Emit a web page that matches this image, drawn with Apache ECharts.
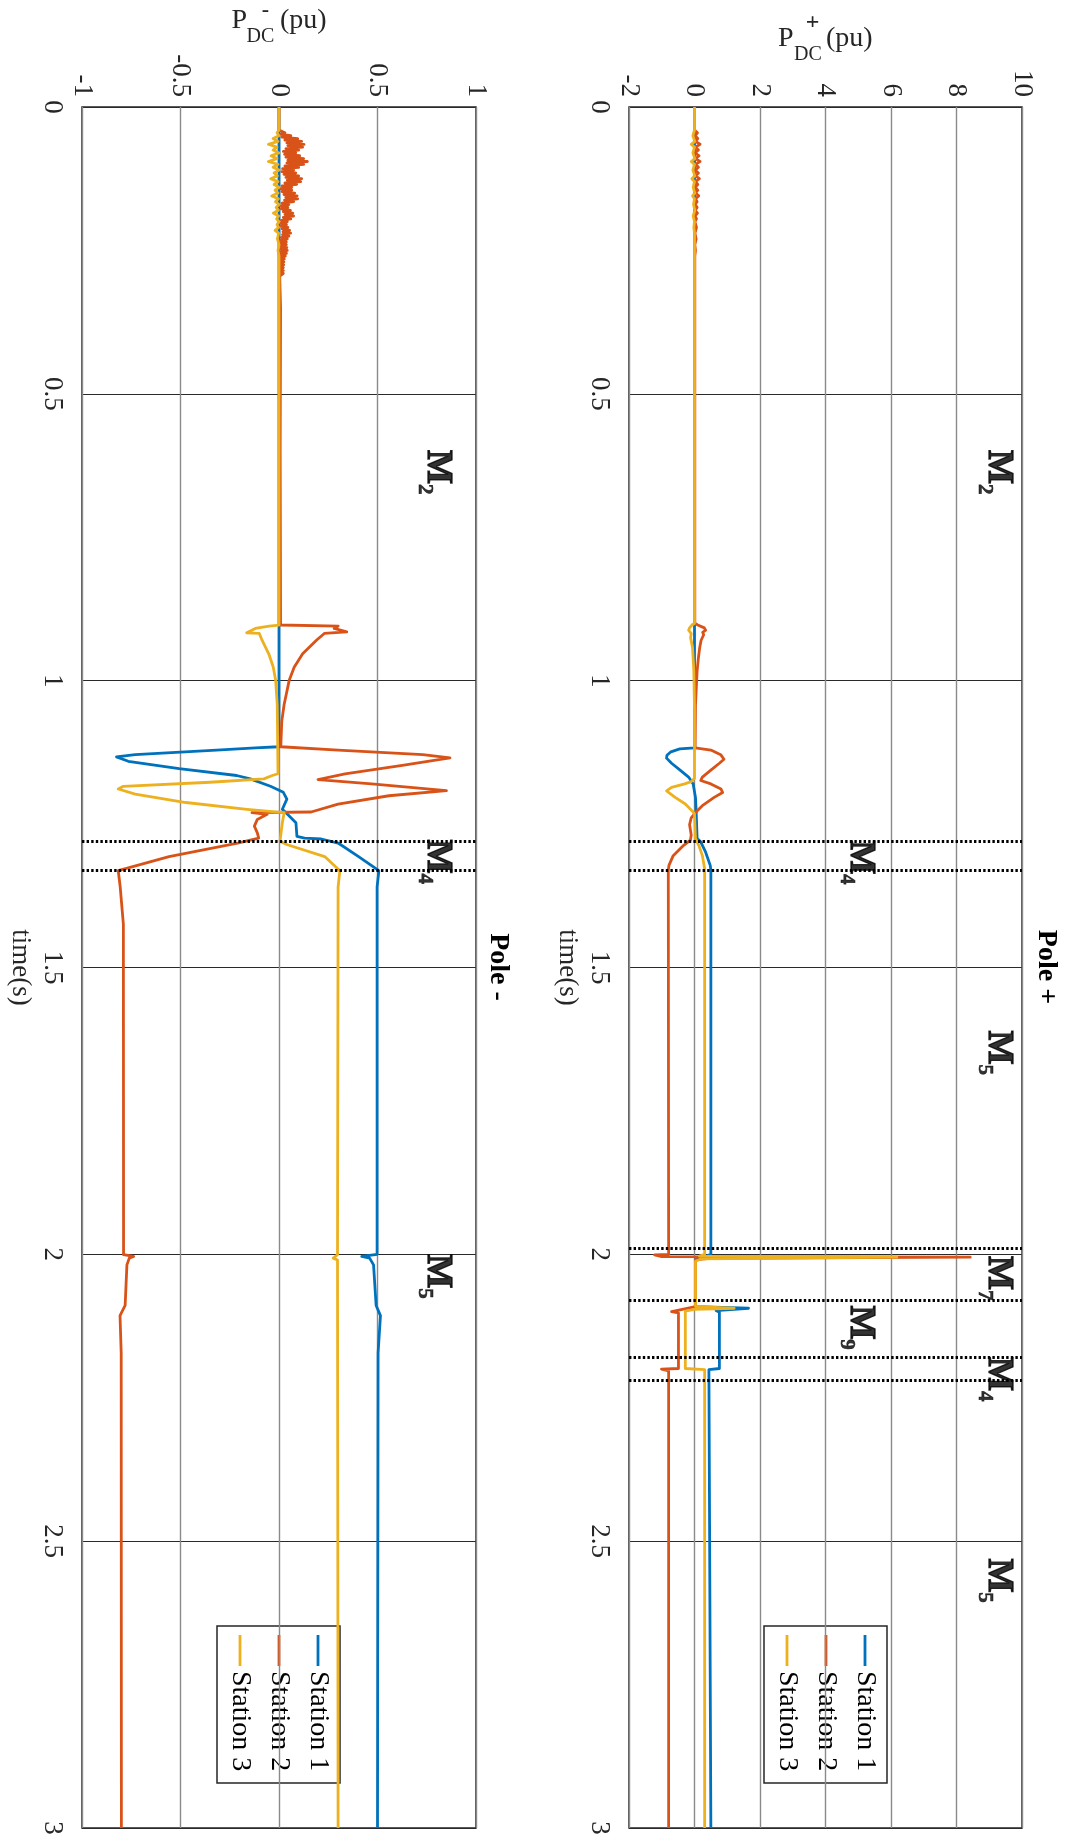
<!DOCTYPE html>
<html>
<head>
<meta charset="utf-8">
<title>P_DC per pole</title>
<script src="https://cdn.jsdelivr.net/npm/echarts@6.0.0/dist/echarts.min.js"></script>
<style>
html,body{margin:0;padding:0;background:#ffffff;}
#chart{width:1065px;height:1834px;}
</style>
</head>
<body>
<div id="chart"></div>
<script>
// ---------------- axis ticks ----------------
const timeTicks = [0, 0.5, 1, 1.5, 2, 2.5, 3];
const minusValueTicks = [-1, -0.5, 0, 0.5, 1];
const plusValueTicks = [-2, 0, 2, 4, 6, 8, 10];
const stationNames = ['Station 1', 'Station 2', 'Station 3'];

// ---------------- Pole + : [time (s), P_DC+ (pu)] ----------------
const plusStation1 = [[0,0],[1.117,0],[1.119,-0.45],[1.124,-0.72],[1.13,-0.84],[1.135,-0.854],[1.144,-0.7],[1.156,-0.44],[1.168,-0.18],[1.18,-0.04],[1.2035,0.03],[1.227,0.05],[1.275,0.08],[1.281,0.19],[1.299,0.34],[1.322,0.48],[1.33,0.5],[2.0,0.5],[2.002,0.4],[2.005,0.55],[2.009,0.03],[2.091,0.03],[2.094,1.65],[2.098,0.66],[2.101,0.76],[2.199,0.76],[2.201,0.44],[2.204,0.5],[3,0.5]];
const plusStation2 = [[0,0],[0.04,0],[0.045,0.09],[0.05,0.02],[0.055,0.1],[0.06,0.03],[0.065,0.17],[0.07,0.03],[0.075,0.12],[0.08,0.02],[0.085,0.14],[0.09,0.03],[0.095,0.17],[0.1,0.03],[0.105,0.12],[0.11,0.02],[0.115,0.12],[0.12,0.03],[0.125,0.15],[0.13,0.03],[0.135,0.1],[0.14,0.02],[0.145,0.1],[0.15,0.03],[0.155,0.13],[0.16,0.03],[0.165,0.08],[0.17,0.02],[0.175,0.08],[0.18,0.02],[0.185,0.09],[0.19,0.02],[0.195,0.06],[0.2,0.015],[0.21,0.06],[0.22,0.015],[0.23,0.05],[0.24,0.01],[0.25,0.03],[0.26,0.01],[0.3,0.01],[0.9,0.01],[0.903,0.1],[0.908,0.3],[0.912,0.34],[0.916,0.25],[0.92,0.28],[0.93,0.2],[0.942,0.16],[0.96,0.12],[0.983,0.08],[1.042,0.03],[1.117,0.02],[1.121,0.5],[1.129,0.8],[1.137,0.9],[1.144,0.76],[1.156,0.5],[1.168,0.24],[1.174,0.19],[1.18,0.5],[1.189,0.81],[1.195,0.86],[1.2035,0.6],[1.218,0.24],[1.23,0.03],[1.239,-0.1],[1.251,-0.15],[1.269,-0.1],[1.278,-0.125],[1.287,-0.33],[1.305,-0.65],[1.322,-0.78],[1.33,-0.8],[2.0,-0.79],[2.001,-1.22],[2.004,-1.0],[2.005,8.42],[2.007,0.5],[2.009,0.03],[2.091,0.03],[2.1,-0.7],[2.102,-0.49],[2.199,-0.49],[2.2,-1.01],[2.203,-0.79],[3,-0.79]];
const plusStation3 = [[0,0],[0.04,0],[0.05,-0.05],[0.06,0.01],[0.065,-0.1],[0.07,0],[0.08,-0.05],[0.09,0.01],[0.095,-0.1],[0.1,0],[0.11,-0.05],[0.12,0.01],[0.125,-0.08],[0.13,0],[0.14,-0.04],[0.15,0.01],[0.155,-0.06],[0.16,0],[0.17,-0.03],[0.18,0.01],[0.19,-0.04],[0.2,0],[0.21,-0.02],[0.22,0],[0.9,0],[0.903,-0.08],[0.908,-0.15],[0.912,-0.18],[0.918,-0.1],[0.925,-0.12],[0.942,-0.06],[0.983,-0.02],[1.05,0],[1.17,0],[1.176,-0.1],[1.18,-0.3],[1.186,-0.7],[1.192,-0.854],[1.2035,-0.59],[1.215,-0.28],[1.227,-0.07],[1.232,0],[1.275,0.03],[1.287,0.13],[1.305,0.24],[1.328,0.31],[2.0,0.31],[2.003,0.15],[2.005,6.18],[2.008,0.2],[2.012,0.03],[2.091,0.03],[2.094,1.21],[2.096,0.0],[2.099,-0.28],[2.199,-0.28],[2.201,0.31],[3,0.31]];

// ---------------- Pole - : [time (s), P_DC- (pu)] ----------------
const minusStation1 = [[0,0],[1.1152,0],[1.117,-0.12],[1.1211,-0.317],[1.1288,-0.73],[1.1329,-0.825],[1.1405,-0.765],[1.1535,-0.507],[1.1653,-0.215],[1.1712,-0.146],[1.1841,-0.043],[1.1947,0.022],[1.2065,0.04],[1.2242,0.017],[1.233,0.043],[1.2477,0.086],[1.2713,0.091],[1.2743,0.13],[1.276,0.215],[1.283,0.30],[1.3066,0.404],[1.3313,0.507],[1.3597,0.498],[2.0,0.498],[2.0037,0.42],[2.0066,0.46],[2.0184,0.48],[2.0891,0.493],[2.1068,0.515],[2.1717,0.503],[3,0.5]];
const minusStation2 = [[0,0],[0.04,0],[0.0425,0.005],[0.045,0.03],[0.0475,0.008],[0.05,0.06],[0.0525,0.014],[0.055,0.095],[0.0575,0.03],[0.06,0.115],[0.0625,0.04],[0.065,0.127],[0.0675,0.045],[0.07,0.12],[0.0725,0.035],[0.075,0.1],[0.0775,0.022],[0.08,0.085],[0.0825,0.028],[0.085,0.105],[0.0875,0.035],[0.09,0.125],[0.0925,0.045],[0.095,0.144],[0.0975,0.04],[0.1,0.125],[0.1025,0.03],[0.105,0.1],[0.1075,0.018],[0.11,0.075],[0.1125,0.014],[0.115,0.085],[0.1175,0.025],[0.12,0.1],[0.1225,0.035],[0.125,0.115],[0.1275,0.042],[0.13,0.11],[0.1325,0.03],[0.135,0.09],[0.1375,0.015],[0.14,0.065],[0.1425,0.008],[0.145,0.065],[0.1475,0.015],[0.15,0.08],[0.1525,0.025],[0.155,0.092],[0.1575,0.034],[0.16,0.095],[0.1625,0.028],[0.165,0.075],[0.1675,0.015],[0.17,0.05],[0.1725,0.008],[0.175,0.045],[0.1775,0.012],[0.18,0.058],[0.1825,0.022],[0.185,0.07],[0.1875,0.03],[0.19,0.074],[0.1925,0.022],[0.195,0.06],[0.1975,0.012],[0.2,0.042],[0.2025,0.008],[0.205,0.038],[0.2075,0.01],[0.21,0.045],[0.2125,0.016],[0.215,0.054],[0.2175,0.02],[0.22,0.059],[0.2225,0.018],[0.225,0.05],[0.2275,0.01],[0.23,0.042],[0.2325,0.006],[0.235,0.037],[0.2375,0.005],[0.24,0.037],[0.2425,0.006],[0.245,0.04],[0.2475,0.008],[0.25,0.042],[0.2525,0.008],[0.255,0.038],[0.2575,0.005],[0.26,0.032],[0.2625,0.003],[0.265,0.027],[0.2675,0.002],[0.27,0.025],[0.2725,0.002],[0.275,0.024],[0.2775,0.002],[0.28,0.022],[0.2825,0.002],[0.285,0.022],[0.2875,0.002],[0.29,0.022],[0.295,0.004],[0.3,0.004],[0.35,0.008],[0.6,0.006],[0.903,0.008],[0.9048,0.3],[0.909,0.28],[0.9148,0.344],[0.9177,0.23],[0.9295,0.19],[0.9531,0.12],[0.9767,0.077],[0.9991,0.052],[1.0415,0.026],[1.0709,0.014],[1.1152,0.009],[1.1211,0.30],[1.1288,0.73],[1.1346,0.868],[1.1476,0.626],[1.1623,0.335],[1.1724,0.198],[1.18,0.47],[1.1917,0.85],[1.2006,0.558],[1.2153,0.30],[1.2289,0.163],[1.2301,-0.137],[1.233,-0.06],[1.2419,-0.11],[1.2536,-0.125],[1.2654,-0.11],[1.2743,-0.103],[1.283,-0.21],[1.3066,-0.558],[1.3313,-0.816],[1.3597,-0.806],[1.4245,-0.79],[2.0007,-0.789],[2.0037,-0.738],[2.0066,-0.76],[2.0184,-0.772],[2.0891,-0.781],[2.1068,-0.807],[2.1717,-0.801],[3,-0.8]];
const minusStation3 = [[0,0],[0.04,0],[0.045,-0.01],[0.05,0],[0.055,-0.03],[0.06,-0.005],[0.065,-0.054],[0.07,-0.01],[0.075,-0.03],[0.08,0],[0.085,-0.04],[0.09,-0.01],[0.095,-0.054],[0.1,-0.005],[0.105,-0.03],[0.11,0],[0.115,-0.025],[0.12,-0.008],[0.125,-0.042],[0.13,-0.005],[0.135,-0.025],[0.14,0],[0.145,-0.02],[0.15,-0.005],[0.155,-0.037],[0.16,-0.003],[0.165,-0.018],[0.17,0],[0.175,-0.015],[0.18,-0.003],[0.185,-0.029],[0.19,-0.002],[0.195,-0.012],[0.2,0],[0.205,-0.01],[0.21,-0.002],[0.215,-0.02],[0.22,-0.002],[0.23,-0.008],[0.24,0],[0.25,-0.005],[0.26,0],[0.903,0],[0.9048,-0.05],[0.909,-0.12],[0.9166,-0.164],[0.9177,-0.1],[0.9295,-0.086],[0.9531,-0.052],[0.9767,-0.029],[0.9991,-0.017],[1.0415,-0.009],[1.1623,-0.005],[1.1653,-0.034],[1.1712,-0.077],[1.1771,-0.35],[1.1841,-0.79],[1.1888,-0.816],[1.1977,-0.73],[1.2124,-0.4725],[1.2242,-0.163],[1.2301,0.026],[1.2477,0.017],[1.2801,0.005],[1.286,0.043],[1.3066,0.232],[1.3313,0.309],[1.3597,0.30],[2.0007,0.297],[2.0066,0.275],[2.01,0.297],[3,0.3]];

// ---------------- mode-change markers and mode labels ----------------
const plusMarkerTimes = [1.28, 1.33, 1.987, 2.079, 2.182, 2.222];
const minusMarkerTimes = [1.28, 1.33];
// [start time, value, mode number]
const plusModeLabels = [[0.598, 9.28, '2'], [1.278, 5.05, '4'], [1.61, 9.28, '5'], [2.003, 9.28, '7'], [2.089, 5.05, '9'], [2.179, 9.28, '4'], [2.53, 9.28, '5']];
const minusModeLabels = [[0.598, 0.805, '2'], [1.277, 0.805, '4'], [2.0, 0.805, '5']];

// ---------------- styling ----------------
const COLORS = ['#0072BD', '#D95319', '#EDB120'];
const FONT = '"Liberation Serif", "Times New Roman", Times, serif';
const TXT = '#262626';

const chart = echarts.init(document.getElementById('chart'), null, {renderer: 'canvas'});

const gridDefs = [
  {left: 82, top: 107, width: 394, height: 1721},   // Pole -
  {left: 629, top: 107, width: 393, height: 1721}   // Pole +
];
const valueRange = [
  {min: minusValueTicks[0], max: minusValueTicks[minusValueTicks.length - 1], interval: minusValueTicks[1] - minusValueTicks[0]},
  {min: plusValueTicks[0], max: plusValueTicks[plusValueTicks.length - 1], interval: plusValueTicks[1] - plusValueTicks[0]}
];

function lineSeries(name, pts, color, idx) {
  return {
    name: name, type: 'line', xAxisIndex: idx, yAxisIndex: idx,
    data: pts.map(p => [p[1], p[0]]),
    showSymbol: false, symbol: 'none', animation: false, silent: true,
    lineStyle: {color: color, width: 2.8, join: 'round'},
    itemStyle: {color: color},
    z: 3
  };
}

function markerSeries(times, idx) {
  return {
    type: 'line', xAxisIndex: idx, yAxisIndex: idx, data: [], silent: true, z: 5,
    markLine: {
      symbol: ['none', 'none'], silent: true, animation: false,
      label: {show: false},
      lineStyle: {color: '#000', width: 3, type: [2.4, 2.2], opacity: 1},
      emphasis: {disabled: true},
      data: times.map(t => ({yAxis: t}))
    }
  };
}

function modeLabelSeries(labels, idx) {
  return {
    type: 'scatter', xAxisIndex: idx, yAxisIndex: idx, silent: true, z: 6,
    symbolSize: 1, itemStyle: {color: 'rgba(0,0,0,0)'},
    data: labels.map(l => ({value: [l[1], l[0]], name: l[2]})),
    label: {
      show: true, position: 'inside', rotate: -90, align: 'left', verticalAlign: 'middle',
      color: '#000', fontWeight: 'bold', fontFamily: FONT, fontSize: 35,
      formatter: p => '{m|M}{s|' + p.name + '}',
      rich: {
        m: {fontFamily: FONT, fontWeight: 'bold', fontSize: 36, color: '#000', lineHeight: 36, verticalAlign: 'top', textBorderColor: '#000', textBorderWidth: 1.4},
        s: {fontFamily: FONT, fontWeight: 'bold', fontSize: 21, color: '#000', lineHeight: 21, verticalAlign: 'top', padding: [21, 0, 0, 0], textBorderColor: '#000', textBorderWidth: 0.6}
      }
    }
  };
}

const xAxes = gridDefs.map((g, i) => ({
  type: 'value', gridIndex: i, position: 'top',
  min: valueRange[i].min, max: valueRange[i].max, interval: valueRange[i].interval,
  axisLine: {show: false}, axisTick: {show: false},
  axisLabel: {rotate: -90, margin: 10, fontFamily: FONT, fontSize: 27, color: TXT, hideOverlap: false},
  splitLine: {show: true, lineStyle: {color: '#8a8a8a', width: 1.4}}
}));

const yAxes = gridDefs.map((g, i) => ({
  type: 'value', gridIndex: i, inverse: true,
  min: timeTicks[0], max: timeTicks[timeTicks.length - 1], interval: timeTicks[1] - timeTicks[0],
  axisLine: {show: false}, axisTick: {show: false},
  axisLabel: {rotate: -90, margin: 16, fontFamily: FONT, fontSize: 27, color: TXT, hideOverlap: false},
  splitLine: {show: true, lineStyle: {color: '#2a2a2a', width: 1.2}},
  name: 'time(s)', nameLocation: 'middle', nameRotate: -90, nameGap: 48,
  nameTextStyle: {fontFamily: FONT, fontSize: 27, color: TXT}
}));

// legend (drawn rotated like the rest of the figure)
function legendGroup(rightX, topY) {
  const W = 157, H = 123, rows = [22, 61, 100];
  const children = [{type: 'rect', shape: {x: 0, y: 0, width: W, height: H}, style: {fill: '#fff', stroke: '#262626', lineWidth: 1.5}}];
  stationNames.forEach((n, k) => {
    children.push({type: 'line', shape: {x1: 9, y1: rows[k], x2: 40, y2: rows[k]}, style: {stroke: COLORS[k], lineWidth: 2.8}});
    children.push({type: 'text', x: 45, y: rows[k], style: {text: n, fontFamily: FONT, fontSize: 28, fill: '#000', verticalAlign: 'middle', align: 'left'}});
  });
  return {type: 'group', x: rightX, y: topY, rotation: -Math.PI / 2, z: 100, children: children};
}

function rotText(x, y, text, size, bold) {
  return {type: 'text', x: x, y: y, rotation: -Math.PI / 2, z: 100,
    style: {text: text, fontFamily: FONT, fontSize: size, fontWeight: bold ? 'bold' : 'normal', fill: '#000', align: 'center', verticalAlign: 'middle'}};
}
function plainText(x, y, text, size, bold, align) {
  return {type: 'text', x: x, y: y, z: 100,
    style: {text: text, fontFamily: FONT, fontSize: size, fontWeight: bold ? 'bold' : 'normal', fill: TXT, align: align || 'left', verticalAlign: 'middle'}};
}

const graphics = [
  // value-axis names  P_DC^-(pu) and P_DC^+(pu)
  plainText(231.5, 20.5, 'P', 28), plainText(246.5, 36.5, 'DC', 20), plainText(280, 20.5, '(pu)', 28), plainText(265.5, 10, '-', 22, true, 'center'),
  plainText(778, 38.5, 'P', 28), plainText(794, 54.5, 'DC', 20), plainText(826, 38.5, '(pu)', 28), plainText(812.5, 23, '+', 24, true, 'center'),
  // subplot titles
  rotText(498, 967, 'Pole -', 28, true),
  rotText(1046, 967, 'Pole +', 28, true),
  legendGroup(340, 1626),
  legendGroup(887, 1626)
];

const option = {
  backgroundColor: '#ffffff',
  animation: false,
  grid: gridDefs.map(g => Object.assign({show: true, borderColor: '#262626', borderWidth: 1.5, backgroundColor: 'transparent', containLabel: false, outerBoundsMode: 'none'}, g)),
  xAxis: xAxes,
  yAxis: yAxes,
  series: [
    lineSeries(stationNames[0], minusStation1, COLORS[0], 0),
    lineSeries(stationNames[1], minusStation2, COLORS[1], 0),
    lineSeries(stationNames[2], minusStation3, COLORS[2], 0),
    lineSeries(stationNames[0], plusStation1, COLORS[0], 1),
    lineSeries(stationNames[1], plusStation2, COLORS[1], 1),
    lineSeries(stationNames[2], plusStation3, COLORS[2], 1),
    markerSeries(minusMarkerTimes, 0),
    markerSeries(plusMarkerTimes, 1),
    modeLabelSeries(minusModeLabels, 0),
    modeLabelSeries(plusModeLabels, 1)
  ],
  graphic: graphics
};
chart.setOption(option);
</script>
</body>
</html>
